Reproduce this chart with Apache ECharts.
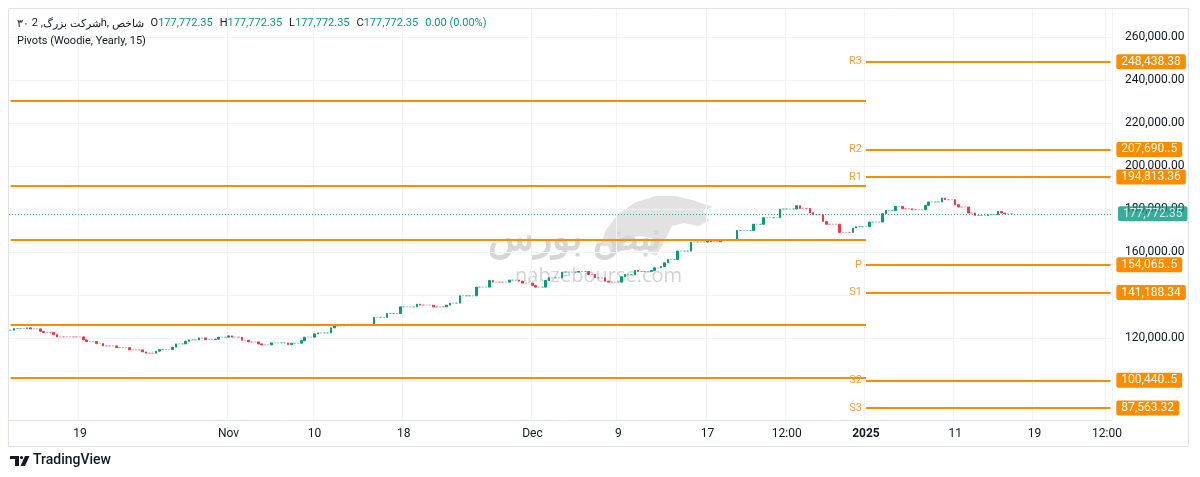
<!DOCTYPE html>
<html>
<head>
<meta charset="utf-8">
<script src="https://cdn.jsdelivr.net/npm/echarts@6/dist/echarts.min.js"></script>
<style>
html,body{margin:0;padding:0;background:#ffffff;}
#chart{width:1200px;height:477px;}
</style>
</head>
<body>
<div id="chart"></div>
<script>
// ---- price levels (close of each flat stretch) and how many bars each stretch lasts ----
const levelClose = [
  123720,124465,124790,124325,123163,122605,121675,120605,119209,118419,
  117488,116419,115628,114558,113628,113023,113953,114698,115814,117349,
  118605,119209,120140,119349,119535,120465,121070,120465,119070,118279,
  117349,116884,117814,117023,117674,118884,120465,122000,122465,124790,
  125720,125860,126325,129674,131441,134558,135813,135349,134558,135349,
  136279,139674,143721,146790,146046,146976,146511,145581,144465,143721,
  146790,148046,150697,150976,149581,148046,146511,146046,148511,149581,
  151441,150976,151441,152697,153302,155023,156558,160465,164650,165720,
  164790,165720,170046,172930,175953,180000,181535,180279,178279,177349,
  174232,172930,169116,171163,171767,173953,177814,179349,181209,180139,
  179674,181674,183255,185116,184325,182000,180930,178139,177023,177349,
  178884,178139,177772.35
];
const levelBars = [
  1,4,1,3,1,3,1,8,1,3,
  2,4,4,4,1,3,1,4,1,3,
  1,3,2,3,1,3,1,3,2,3,
  1,3,5,1,3,1,3,1,4,1,
  3,5,4,4,4,5,1,4,4,1,
  3,5,4,1,5,3,1,3,1,3,
  1,4,5,3,2,3,1,4,1,3,
  1,4,1,2,1,1,3,4,5,1,
  3,5,5,3,5,5,1,3,1,3,
  1,4,4,1,4,4,1,3,2,3,
  4,1,4,1,3,1,3,2,4,3,
  1,1,3
];
const totalSlots = 334;

// ---- time axis ticks (bar number and its text) ----
const xTickBar   = [21, 66, 92, 119, 158, 184, 211, 235, 259, 286, 310, 332];
const xTickLabel = ['19','Nov','10','18','Dec','9','17','12:00','2025','11','19','12:00'];
const yearStartBar = 259;

// ---- price axis ticks ----
const yGridTicks  = [100000,120000,140000,160000,180000,200000,220000,240000,260000];
const yLabelTicks = [120000,160000,180000,200000,220000,240000,260000];

// ---- Woodie yearly pivots ----
const pivotNames      = ['R3','R2','R1','P','S1','S2','S3'];
const pivots2025      = [248438.38, 207690.5, 194813.36, 154065.5, 141188.34, 100440.5, 87563.32];
const pivotText2025   = ['248,438.38','207,690..5','194,813.36','154,065..5','141,188.34','100,440..5','87,563.32'];
const pivots2024      = [230400, 190700, 165900, 126200, 101400];
const lastPrice       = 177772.35;
const lastPriceText   = '177,772.35';

// ---- legend texts ----
const legendOHLC = ['O', 'H', 'L', 'C'];
const legendOHLCText = ['177,772.35', '177,772.35', '177,772.35', '177,772.35'];
const legendChange = '0.00 (0.00%)';

// ---- build candles ----
const UP = '#089981', DOWN = '#f23645';
const UP_LIGHT = 'rgba(8,153,129,0.5)', DOWN_LIGHT = 'rgba(242,54,69,0.5)';
const categories = [];
for (let i = 0; i < totalSlots; i++) categories.push(String(i));
const candles = [];
let prev = levelClose[0];
levelClose.forEach((lv, k) => {
  const upMove = lv >= prev;
  for (let j = 0; j < levelBars[k]; j++) {
    const o = j === 0 ? prev : lv;
    const item = { value: [o, lv, Math.min(o, lv), Math.max(o, lv)] };
    if (o === lv) {
      const c = upMove ? UP_LIGHT : DOWN_LIGHT;
      item.itemStyle = { color: c, color0: c, borderColor: c, borderColor0: c };
    }
    candles.push(item);
  }
  prev = lv;
});

const ORANGE = '#fb8c00';
const markData = [];
pivots2024.forEach(v => {
  markData.push([{ coord: [0, v], label: { show: false } }, { coord: [yearStartBar, v] }]);
});
pivots2025.forEach((v, i) => {
  markData.push([{ coord: [yearStartBar, v], label: {
      show: true, position: 'start', distance: 4, formatter: pivotNames[i],
      color: '#f7a03c', fontSize: 11, fontFamily: 'Roboto' } },
    { coord: [totalSlots - 1, v] }]);
  markData.push([{ coord: [yearStartBar, v], label: {
      show: true, position: 'end', distance: 6, formatter: pivotText2025[i],
      color: '#ffffff', fontSize: 12, fontFamily: 'Roboto',
      backgroundColor: ORANGE, padding: [2, 5, 1, 5], borderRadius: 2 } },
    { coord: [totalSlots - 1, v] }]);
});

const fmtNum = v => v.toLocaleString('en-US', { minimumFractionDigits: 2, maximumFractionDigits: 2 });

let legendLine = '{t|۳۰}{k| 2 ,}{t|شرکت بزرگ}{k|h, }{t|شاخص}';
legendOHLC.forEach((n, i) => { legendLine += '{g| }{k|' + n + '}{v|' + legendOHLCText[i] + '}'; });
legendLine += '{g| }{v|' + legendChange + '}';

const chart = echarts.init(document.getElementById('chart'), null, { renderer: 'canvas' });
chart.setOption({
  backgroundColor: '#ffffff',
  animation: false,
  grid: { left: 9, right: 88, top: 9, bottom: 57 },
  xAxis: {
    type: 'category',
    data: categories,
    boundaryGap: true,
    axisLine: { show: true, lineStyle: { color: '#e0e3eb', width: 1 } },
    axisTick: { show: false },
    axisLabel: {
      interval: (i) => xTickBar.includes(i),
      formatter: (value) => {
        const k = xTickBar.indexOf(Number(value));
        if (k < 0) return '';
        if (xTickLabel[k] === '2025') return '{b|2025}';
        if (k === xTickBar.length - 1) return '{c|' + xTickLabel[k] + '}';
        return xTickLabel[k];
      },
      color: '#131722', fontSize: 12, fontFamily: 'Roboto', margin: 8,
      rich: {
        b: { fontWeight: 'bold', fontSize: 12, fontFamily: 'Roboto', color: '#131722' },
        c: { fontSize: 12, fontFamily: 'Roboto', color: '#131722', width: 22, overflow: 'truncate', ellipsis: '' }
      }
    },
    splitLine: { show: true, interval: (i) => xTickBar.includes(i), lineStyle: { color: '#f2f3f7', width: 1 } }
  },
  yAxis: {
    type: 'value',
    position: 'right',
    min: 82000,
    max: 272900,
    axisLine: { show: false },
    axisTick: { show: false, customValues: yGridTicks },
    axisLabel: { customValues: yLabelTicks, formatter: fmtNum, color: '#131722', fontSize: 12, fontFamily: 'Roboto', margin: 13 },
    splitLine: { show: true, lineStyle: { color: '#f2f3f7', width: 1 } }
  },
  graphic: [
    { type: 'rect', silent: true, z: -10, shape: { x: 8.5, y: 8.5, width: 1180, height: 438 }, style: { fill: 'none', stroke: '#e0e3eb', lineWidth: 1 } },
    { type: 'polygon', silent: true, z: -6, shape: { points: [
        [600,246],[606,230],[618,214],[636,202],[656,196],[676,196],[692,200],[704,204],[713,207],
        [703,211],[709,221],[698,226],[684,223],[672,226],[664,242],[656,256],[648,252],[652,238],
        [640,236],[628,238],[620,252],[612,256],[608,246]
      ] }, style: { fill: '#e2e2e2' } },
    { type: 'text', left: 515, top: 266, z: -5, silent: true, style: { text: 'nabzebourse.com', fill: '#d3d3d3', font: '500 20px "Open Sans"' } },
    { type: 'text', left: 488, top: 220, z: -5, silent: true, style: { text: 'نبض بورس', fill: '#d6d6d6', font: 'bold 38px "Noto Sans"' } },
    { type: 'text', left: 17, top: 18, z: 100, silent: true, style: {
        rich: {
          t: { fill: '#131722', font: '11px "Noto Sans"' },
          k: { fill: '#131722', font: '11px Roboto' },
          v: { fill: '#089981', font: '11px Roboto' },
          g: { width: 7, font: '11px Roboto' }
        },
        text: legendLine
      } },
    { type: 'text', left: 17, top: 36, z: 100, silent: true, style: { text: 'Pivots (Woodie, Yearly, 15)', fill: '#131722', font: '11px Roboto' } },
    { type: 'group', left: 10, top: 456, silent: true, children: [
        { type: 'polygon', shape: { points: [[0,0],[9,0],[9,10],[5,10],[5,3],[0,3]] }, style: { fill: '#131722' } },
        { type: 'circle', shape: { cx: 11.5, cy: 1.6, r: 1.6 }, style: { fill: '#131722' } },
        { type: 'polygon', shape: { points: [[15,0],[19.5,0],[15,10],[10.5,10]] }, style: { fill: '#131722' } }
      ] },
    { type: 'text', left: 33, top: 453, silent: true, style: { text: 'TradingView', fill: '#131722', font: '500 14px Roboto' } }
  ],
  series: [{
    type: 'candlestick',
    data: candles,
    barWidth: 2,
    itemStyle: { color: UP, color0: DOWN, borderColor: UP, borderColor0: DOWN, borderWidth: 1 },
    markLine: {
      silent: true,
      symbol: ['none', 'none'],
      animation: false,
      lineStyle: { color: ORANGE, width: 2, type: 'solid' },
      label: { show: false },
      data: markData.concat([
        { yAxis: lastPrice, lineStyle: { color: '#089981', width: 1, type: [1, 2], opacity: 0.8 },
          label: { show: true, position: 'end', distance: 6, formatter: lastPriceText, color: '#ffffff',
                   fontSize: 12, fontFamily: 'Roboto', backgroundColor: '#089981', padding: [2, 5, 1, 5], borderRadius: 2 } }
      ])
    }
  }]
});
</script>
</body>
</html>
